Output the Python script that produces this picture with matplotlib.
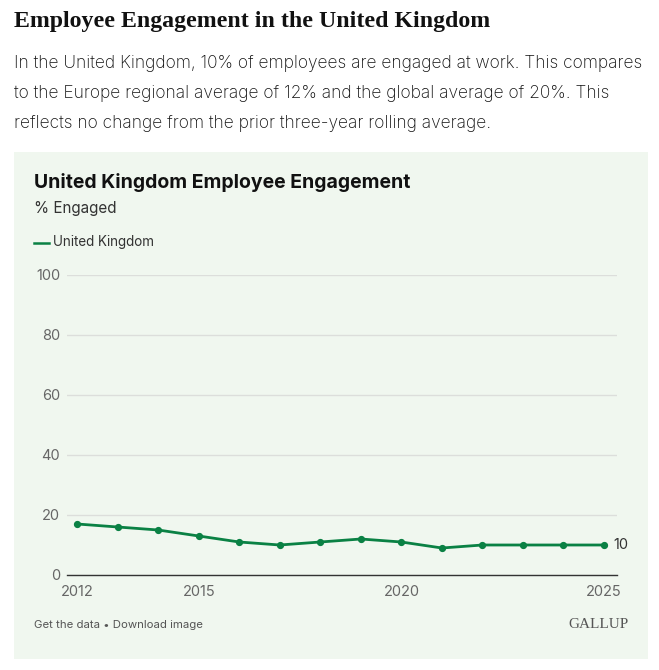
import matplotlib.pyplot as plt
from matplotlib.patches import Rectangle

years = [2012, 2013, 2014, 2015, 2016, 2017, 2018, 2019, 2020, 2021, 2022, 2023, 2024, 2025]
engaged = [17, 16, 15, 13, 11, 10, 11, 12, 11, 9, 10, 10, 10, 10]
series_name = "United Kingdom"
x_ticks = [2012, 2015, 2020, 2025]
y_ticks = [0, 20, 40, 60, 80, 100]

green = "#0a8144"
panel_bg = "#f0f7ef"

W, H = 659, 670
fig = plt.figure(figsize=(W / 100, H / 100), dpi=100)
fig.patch.set_facecolor("white")


def fx(px):
    return px / W


def fy(py):
    return 1 - py / H


# green panel behind the chart
fig.patches.append(Rectangle((fx(14), fy(659)), fx(648) - fx(14), fy(152) - fy(659),
                             transform=fig.transFigure, facecolor=panel_bg,
                             edgecolor="none", zorder=-10))

fig.text(fx(14), fy(22), "Employee Engagement in the United Kingdom",
         family="Liberation Serif", fontweight="bold", fontsize=17.2, color="#111111",
         va="center", ha="left")
body = ["In the United Kingdom, 10% of employees are engaged at work. This compares",
        "to the Europe regional average of 12% and the global average of 20%. This",
        "reflects no change from the prior three-year rolling average."]
for i, line in enumerate(body):
    fig.text(fx(14), fy(63 + 30 * i), line, family="Inter", fontweight="light",
             fontsize=12.5, color="#111111", va="center", ha="left")

fig.text(fx(34), fy(183), "United Kingdom Employee Engagement", family="Inter",
         fontweight="bold", fontsize=14, color="#111111", va="center", ha="left")
fig.text(fx(34), fy(208), "% Engaged", family="Inter", fontsize=11,
         color="#333333", va="center", ha="left")

# legend
fig.lines.append(plt.Line2D([fx(34), fx(49)], [fy(243), fy(243)], transform=fig.transFigure,
                            color=green, linewidth=1.8))
fig.text(fx(53), fy(242), series_name, family="Inter", fontsize=9.7,
         color="#333333", va="center", ha="left")

ax = fig.add_axes([fx(67), fy(575), fx(617) - fx(67), fy(275) - fy(575)])
ax.set_facecolor("none")
ax.plot(years, engaged, color=green, linewidth=2, marker="o", markersize=4.2,
        clip_on=False, zorder=3)
ax.text(years[-1] + 0.23, engaged[-1], str(engaged[-1]), family="Inter", fontsize=10.5,
        color="#333333", va="center", ha="left")

ax.set_xlim(2011.75, 2025.32)
ax.set_ylim(0, 100)
ax.set_yticks(y_ticks)
ax.set_xticks(x_ticks)
ax.grid(axis="y", color="#dcdedb", linewidth=1)
ax.set_axisbelow(True)
for s in ["top", "right", "left"]:
    ax.spines[s].set_visible(False)
ax.spines["bottom"].set_color("#333333")
ax.spines["bottom"].set_linewidth(1)
ax.tick_params(length=0, labelsize=10.5, labelcolor="#666666", pad=5)
ax.tick_params(axis="x", pad=7)
for lbl in ax.get_xticklabels() + ax.get_yticklabels():
    lbl.set_family("Inter")

fig.text(fx(34), fy(625), "Get the data \u2022 Download image", family="Inter",
         fontsize=8.2, color="#555555", va="center", ha="left")
fig.text(fx(629), fy(625), "GALLUP", family="Liberation Serif", fontsize=11,
         color="#555555", va="center", ha="right")

fig.savefig("out.png", dpi=100, facecolor="white")
